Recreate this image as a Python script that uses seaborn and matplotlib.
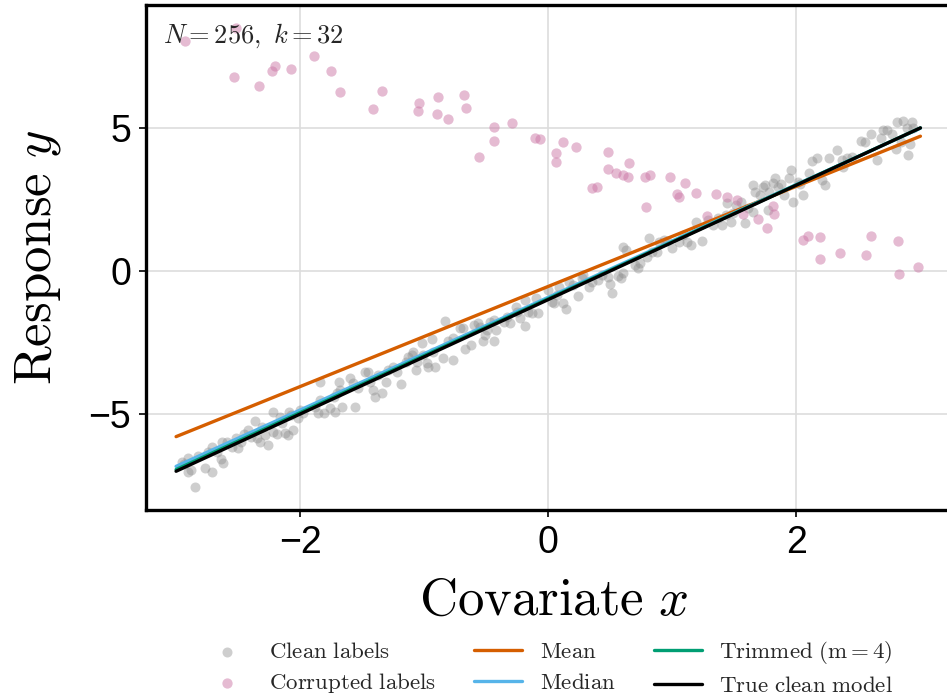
import numpy as np
import pandas as pd
import matplotlib
matplotlib.use("Agg")
import matplotlib.pyplot as plt
import seaborn as sns

# clean labels
clean_x = [-2.95, -2.94, -2.90, -2.90, -2.88, -2.85, -2.82, -2.77, -2.74, -2.71, -2.71, -2.67,
           -2.64, -2.62, -2.63, -2.59, -2.55, -2.52, -2.50, -2.48, -2.45, -2.42, -2.40, -2.36,
           -2.35, -2.32, -2.31, -2.28, -2.26, -2.22, -2.22, -2.19, -2.16, -2.15, -2.12, -2.10,
           -2.09, -2.07, -2.06, -2.02, -2.00, -1.98, -1.88, -1.86, -1.84, -1.84, -1.81, -1.76,
           -1.73, -1.70, -1.72, -1.69, -1.68, -1.66, -1.60, -1.57, -1.56, -1.53, -1.48, -1.45,
           -1.44, -1.41, -1.40, -1.37, -1.34, -1.31, -1.29, -1.25, -1.22, -1.19, -1.15, -1.13,
           -1.10, -1.09, -1.06, -1.07, -1.02, -1.01, -0.98, -0.97, -0.94, -0.93, -0.91, -0.85,
           -0.83, -0.81, -0.77, -0.77, -0.71, -0.69, -0.67, -0.62, -0.60, -0.57, -0.55, -0.53,
           -0.51, -0.49, -0.47, -0.44, -0.44, -0.42, -0.36, -0.33, -0.31, -0.26, -0.25, -0.23,
           -0.19, -0.19, -0.16, -0.13, -0.10, -0.08, 0.00, 0.03, 0.05, 0.07, 0.09, 0.12,
           0.14, 0.17, 0.20, 0.24, 0.27, 0.28, 0.33, 0.35, 0.40, 0.43, 0.48, 0.50,
           0.51, 0.56, 0.59, 0.60, 0.60, 0.63, 0.70, 0.72, 0.74, 0.80, 0.81, 0.84,
           0.88, 0.89, 0.93, 0.96, 1.00, 1.05, 1.09, 1.12, 1.15, 1.19, 1.24, 1.29,
           1.33, 1.37, 1.40, 1.43, 1.44, 1.47, 1.49, 1.51, 1.55, 1.59, 1.61, 1.65,
           1.65, 1.67, 1.71, 1.73, 1.75, 1.77, 1.78, 1.81, 1.83, 1.85, 1.88, 1.90,
           1.94, 1.96, 1.97, 2.01, 2.03, 2.05, 2.10, 2.13, 2.17, 2.21, 2.23, 2.26,
           2.33, 2.37, 2.38, 2.41, 2.45, 2.52, 2.55, 2.60, 2.65, 2.68, 2.70, 2.73,
           2.77, 2.80, 2.81, 2.84, 2.86, 2.89, 2.90, 2.92, 2.93, 2.94]
clean_y = [-6.68, -6.75, -6.54, -7.03, -6.96, -7.55, -6.47, -6.89, -6.33, -7.03, -6.15, -6.33,
           -6.57, -6.71, -5.98, -5.98, -6.15, -5.84, -6.19, -5.98, -5.70, -5.56, -5.80, -5.24,
           -5.84, -5.98, -5.45, -5.73, -6.08, -4.93, -5.63, -5.70, -5.10, -5.31, -5.66, -5.73,
           -4.93, -5.03, -5.56, -5.14, -4.86, -4.97, -4.76, -4.97, -3.88, -4.51, -4.97, -4.79,
           -4.41, -4.27, -4.93, -3.88, -4.16, -4.76, -3.74, -3.92, -4.76, -4.09, -3.53, -3.53,
           -3.88, -4.16, -4.41, -3.64, -4.27, -3.88, -3.46, -3.36, -3.53, -3.95, -3.18, -3.01,
           -2.94, -2.83, -3.18, -3.46, -2.52, -2.94, -3.22, -3.36, -2.38, -2.83, -3.36, -3.04,
           -1.75, -2.45, -3.11, -2.34, -1.99, -1.99, -2.73, -2.59, -1.89, -1.82, -1.96, -2.45,
           -2.24, -2.06, -1.78, -1.71, -2.45, -2.06, -1.78, -1.61, -1.82, -1.26, -1.43, -1.64,
           -1.92, -1.01, -1.43, -1.47, -0.94, -1.47, -0.66, -1.08, -1.12, -0.84, -0.56, -1.12,
           -1.33, -0.38, -0.49, -0.87, -0.24, -0.14, -0.56, -0.38, -0.31, -0.14, -0.21, -0.45,
           -0.77, -0.17, -0.24, -0.07, 0.84, 0.73, 0.21, 0.10, 0.28, 0.49, 1.15, 0.66,
           0.66, 1.01, 1.08, 1.05, 0.80, 1.01, 1.26, 1.01, 0.91, 1.71, 1.05, 1.78,
           1.61, 1.85, 1.61, 1.96, 2.38, 1.71, 2.03, 2.31, 2.41, 1.68, 2.20, 2.06,
           3.01, 2.76, 2.66, 2.94, 3.01, 2.13, 2.76, 3.08, 3.25, 2.94, 3.04, 2.66,
           3.25, 3.53, 2.41, 3.11, 3.04, 2.66, 3.43, 3.85, 3.95, 3.18, 3.01, 3.95,
           4.23, 3.88, 3.64, 3.95, 3.99, 4.55, 4.51, 4.79, 3.88, 4.65, 4.93, 4.93,
           4.79, 4.27, 5.21, 4.51, 5.24, 5.00, 4.06, 4.44, 5.21, 5.00]

# corrupted labels
corrupt_x = [-2.93, -2.52, -2.53, -2.33, -2.23, -2.20, -2.07, -1.89, -1.75, -1.68, -1.41, -1.34,
             -1.04, -1.05, -0.89, -0.90, -0.81, -0.68, -0.66, -0.44, -0.44, -0.56, -0.29, -0.11,
             -0.07, 0.12, 0.06, 0.06, 0.22, 0.48, 0.48, 0.55, 0.60, 0.64, 0.65, 0.35,
             0.39, 0.78, 0.82, 0.79, 0.98, 1.10, 1.04, 1.05, 1.19, 1.35, 1.44, 1.52,
             1.28, 1.57, 1.69, 1.81, 1.82, 1.76, 2.05, 2.09, 2.19, 2.19, 2.35, 2.56,
             2.60, 2.82, 2.83, 2.98]
corrupt_y = [8.04, 8.50, 6.78, 6.47, 6.99, 7.17, 7.06, 7.52, 6.99, 6.26, 5.66, 6.29,
             5.87, 5.59, 6.08, 5.49, 5.31, 6.15, 5.70, 5.03, 4.55, 3.99, 5.17, 4.65,
             4.62, 4.51, 4.12, 3.81, 4.34, 4.16, 3.57, 3.43, 3.36, 3.29, 3.78, 2.90,
             2.94, 3.29, 3.36, 2.24, 3.29, 3.08, 2.69, 2.59, 2.73, 2.69, 2.59, 2.48,
             1.92, 1.99, 1.82, 2.27, 1.99, 1.50, 1.08, 1.22, 1.19, 0.42, 0.63, 0.56,
             1.22, 1.05, -0.10, 0.14]

# fitted lines (intercept, slope)
fit_names = ["Mean", "Median", "Trimmed (m=4)", "True clean model"]
fit_intercepts = [-0.54, -0.92, -0.97, -1.0]
fit_slopes = [1.75, 1.97, 1.99, 2.0]
fit_colors = ["#D55E00", "#56B4E9", "#009E73", "black"]
x_range = [-3.0, 3.0]

sns.set_theme(style="whitegrid")
plt.rcParams["mathtext.fontset"] = "cm"
plt.rcParams["font.family"] = ["Liberation Sans", "DejaVu Sans"]

fig = plt.figure(figsize=(9.47, 6.96), dpi=100)
ax = fig.add_axes([0.1545, 0.267, 0.86, 0.726])

sns.scatterplot(x=clean_x, y=clean_y, color="#8c8c8c", alpha=0.42, s=52, linewidth=0,
                ax=ax, label=r"$\mathrm{Clean\ labels}$", zorder=2)
sns.scatterplot(x=corrupt_x, y=corrupt_y, color="#CC79A7", alpha=0.5, s=55, linewidth=0,
                ax=ax, label=r"$\mathrm{Corrupted\ labels}$", zorder=2)

for name, b0, b1, c in zip(fit_names, fit_intercepts, fit_slopes, fit_colors):
    xs = np.array(x_range)
    line_df = pd.DataFrame({"x": xs, "y": b0 + b1 * xs})
    lab = r"$\mathrm{" + name.replace(" ", r"\ ").replace("=", "{=}") + "}$"
    sns.lineplot(data=line_df, x="x", y="y", color=c, lw=2.4, ax=ax, label=lab, zorder=3)

ax.set_xlim(-3.24, 3.325)
ax.set_ylim(-8.36, 9.30)
ax.set_xticks([-2, 0, 2])
ax.set_yticks([-5, 0, 5])
ax.grid(True, color="#dddddd", linewidth=1.2)
ax.set_facecolor("white")
for side in ["left", "bottom", "top", "right"]:
    ax.spines[side].set_visible(True)
    ax.spines[side].set_color("black")
    ax.spines[side].set_linewidth(2.4)
ax.tick_params(axis="both", which="both", labelsize=27, length=5, width=1.2,
               color="black", labelcolor="black", direction="out",
               left=True, bottom=True, pad=6)
ax.set_xlabel(r"$\mathrm{Covariate}\ x$", fontsize=38, labelpad=10, color="black")
ax.set_ylabel(r"$\mathrm{Response}\ y$", fontsize=38, labelpad=18, color="black")
ax.text(0.02, 0.968, r"$N = 256,\ k = 32$", transform=ax.transAxes, fontsize=19,
        ha="left", va="top")

handles, labels = ax.get_legend_handles_labels()
ax.legend(handles, labels, loc="center", bbox_to_anchor=(0.579, 0.040),
          bbox_transform=fig.transFigure, ncol=3, frameon=False, fontsize=16.5,
          handlelength=2.1, handletextpad=0.75, columnspacing=1.68, labelspacing=0.35,
          markerscale=1.0)

fig.savefig("out.png", dpi=100)
